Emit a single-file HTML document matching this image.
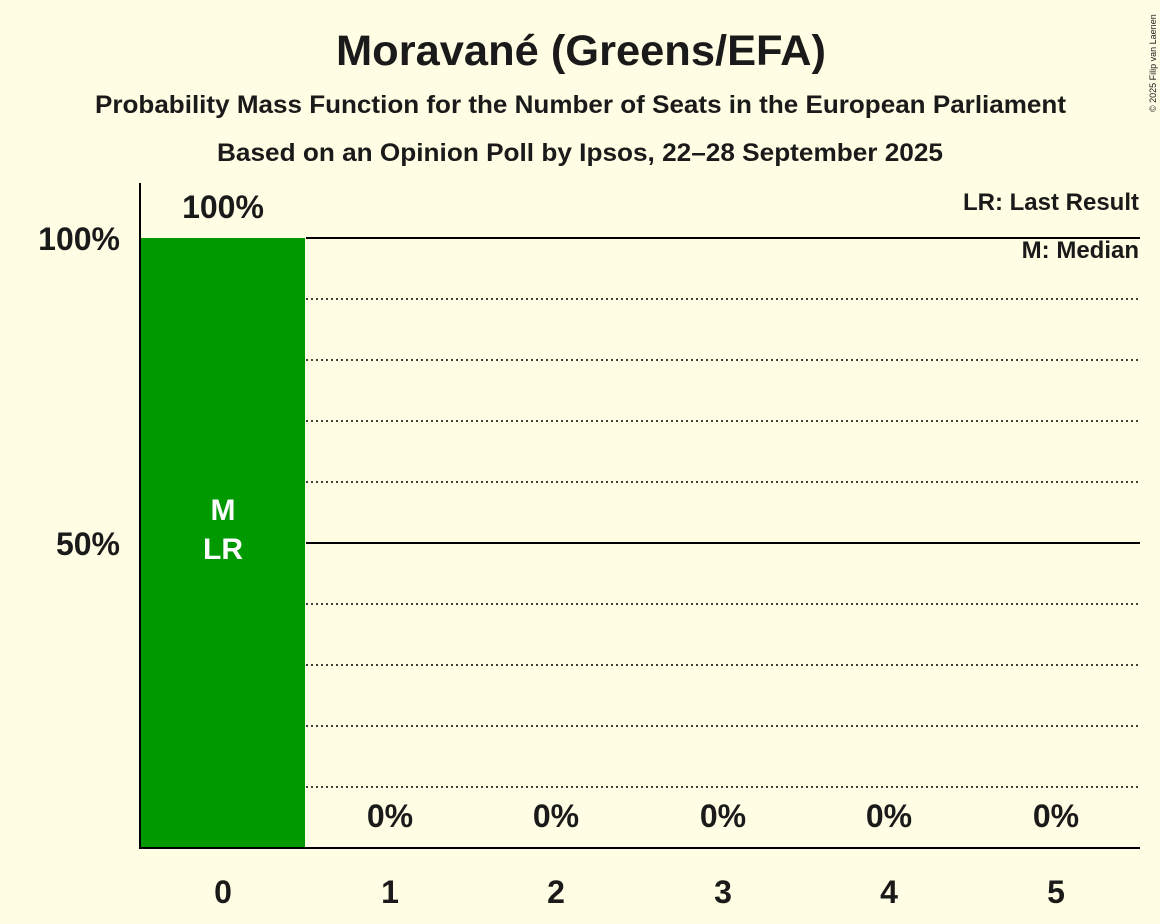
<!DOCTYPE html>
<html><head><meta charset="utf-8"><style>
html,body{margin:0;padding:0;background:#fffde3;}
svg{display:block;}
text{font-family:"Liberation Sans",sans-serif;font-weight:bold;fill:#1a1a1a;}
</style></head><body>
<svg width="1160" height="924" viewBox="0 0 1160 924" xmlns="http://www.w3.org/2000/svg">
<rect width="1160" height="924" fill="#fffde3"/>
<text x="336" y="65" font-size="43" textLength="490" lengthAdjust="spacingAndGlyphs">Moravané (Greens/EFA)</text>
<text x="95" y="113" font-size="25" textLength="971" lengthAdjust="spacingAndGlyphs">Probability Mass Function for the Number of Seats in the European Parliament</text>
<text x="217" y="161" font-size="25" textLength="726" lengthAdjust="spacingAndGlyphs">Based on an Opinion Poll by Ipsos, 22–28 September 2025</text>
<text transform="translate(1156,112) rotate(-90)" font-size="9" style="font-weight:normal">© 2025 Filip van Laenen</text>
<g stroke="#000" stroke-width="1.5" stroke-dasharray="2,3">
<line x1="306" y1="299" x2="1140" y2="299"/><line x1="306" y1="360" x2="1140" y2="360"/>
<line x1="306" y1="421" x2="1140" y2="421"/><line x1="306" y1="482" x2="1140" y2="482"/>
<line x1="306" y1="604" x2="1140" y2="604"/><line x1="306" y1="665" x2="1140" y2="665"/>
<line x1="306" y1="726" x2="1140" y2="726"/><line x1="306" y1="787" x2="1140" y2="787"/>
</g>
<g stroke="#000" stroke-width="2">
<line x1="306" y1="238" x2="1140" y2="238"/><line x1="306" y1="543" x2="1140" y2="543"/>
</g>
<rect x="140" y="238" width="165" height="610" fill="#009a00"/>
<g stroke="#000" stroke-width="2">
<line x1="140" y1="183" x2="140" y2="849"/><line x1="139" y1="848" x2="1140" y2="848"/>
</g>
<text x="120" y="250" font-size="32" text-anchor="end">100%</text>
<text x="120" y="555" font-size="32" text-anchor="end">50%</text>
<text x="223" y="218" font-size="32" text-anchor="middle">100%</text>
<text x="223" y="520" font-size="30" text-anchor="middle" style="fill:#fff">M</text>
<text x="223" y="559" font-size="30" text-anchor="middle" style="fill:#fff">LR</text>
<g font-size="32" text-anchor="middle">
<text x="390" y="827">0%</text><text x="556" y="827">0%</text><text x="723" y="827">0%</text>
<text x="889" y="827">0%</text><text x="1056" y="827">0%</text>
</g>
<g font-size="32" text-anchor="middle">
<text x="223" y="903">0</text><text x="390" y="903">1</text><text x="556" y="903">2</text>
<text x="723" y="903">3</text><text x="889" y="903">4</text><text x="1056" y="903">5</text>
</g>
<text x="1139" y="210" font-size="24" text-anchor="end">LR: Last Result</text>
<text x="1139" y="258" font-size="24" text-anchor="end">M: Median</text>
</svg>
</body></html>
